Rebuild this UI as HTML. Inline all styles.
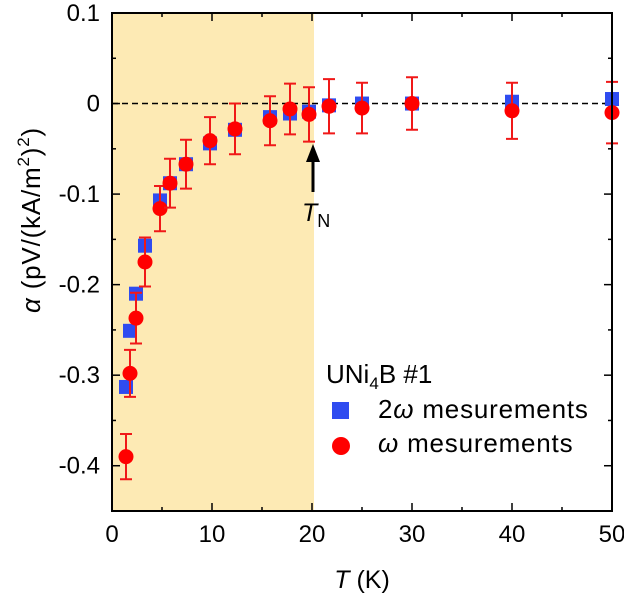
<!DOCTYPE html>
<html><head><meta charset="utf-8"><style>
body{margin:0;background:#fff}
svg text{font-family:"Liberation Sans",Arial,sans-serif;fill:#000}
</style></head><body>
<svg id="chart" width="624" height="604" viewBox="0 0 624 604" xmlns="http://www.w3.org/2000/svg">
<g id="g"></g>
</svg>
<script>
const tempsSq=[1.4,1.8,2.4,3.3,4.8,5.8,7.4,9.8,12.3,15.8,17.8,19.7,21.7,25,30,40,50];
const alphaSq=[-0.313,-0.251,-0.210,-0.157,-0.107,-0.088,-0.067,-0.044,-0.029,-0.015,-0.011,-0.009,-0.002,0,0,0.002,0.005];
const tempsCi=[1.4,1.8,2.4,3.3,4.8,5.8,7.4,9.8,12.3,15.8,17.8,19.7,21.7,25,30,40,50];
const alphaCi=[-0.390,-0.298,-0.237,-0.175,-0.116,-0.088,-0.067,-0.041,-0.028,-0.019,-0.006,-0.012,-0.003,-0.005,0,-0.008,-0.010];
const errCi=[0.025,0.026,0.028,0.027,0.025,0.027,0.027,0.026,0.028,0.027,0.028,0.030,0.030,0.028,0.029,0.031,0.034];
const xTicks=[0,10,20,30,40,50];
const yTicks=[0.1,0,-0.1,-0.2,-0.3,-0.4];
const yTickLabels=["0.1","0","-0.1","-0.2","-0.3","-0.4"];

const L=112,R=612,T=13,B=511;
const X=v=>L+(v-0)/50*(R-L);
const Y=v=>T+(0.1-v)/0.55*(B-T);
const g=document.getElementById('g');
const NS='http://www.w3.org/2000/svg';
function mk(tag,attrs,parent){const e=document.createElementNS(NS,tag);for(const k in attrs)e.setAttribute(k,attrs[k]);(parent||g).appendChild(e);return e;}

let e=mk('rect',{x:L,y:T,width:X(20.2)-L,height:B-T,fill:'#fdeab4'});


e=mk('line',{x1:L,x2:R,y1:Y(0),y2:Y(0),stroke:'#000','stroke-width':1.5,'stroke-dasharray':'6,4'});



for(let v=0;v<=50;v+=5){const maj=v%10===0;const len=maj?8:4;
 mk('line',{x1:X(v),x2:X(v),y1:B,y2:B-len,stroke:'#000','stroke-width':1.5});
 mk('line',{x1:X(v),x2:X(v),y1:T,y2:T+len,stroke:'#000','stroke-width':1.5});}
for(let i=0;i<=11;i++){const v=0.1-i*0.05;const maj=i%2===0;const len=maj?8:4;
 mk('line',{x1:L,x2:L+len,y1:Y(v),y2:Y(v),stroke:'#000','stroke-width':1.5});
 mk('line',{x1:R,x2:R-len,y1:Y(v),y2:Y(v),stroke:'#000','stroke-width':1.5});}
xTicks.forEach(v=>{const t=mk('text',{x:X(v),y:B+31,'text-anchor':'middle','font-size':24});t.textContent=v;
 
 });
yTicks.forEach((v,i)=>{const t=mk('text',{x:L-12,y:Y(v)+8,'text-anchor':'end','font-size':24});t.textContent=yTickLabels[i];
 
 });

tempsSq.forEach((t,i)=>{const s=mk('rect',{x:X(t)-7,y:Y(alphaSq[i])-7,width:14,height:14,fill:'#2f4cf0'});
 
 });
tempsCi.forEach((t,i)=>{const cx=X(t),y1=Y(alphaCi[i]+errCi[i]),y2=Y(alphaCi[i]-errCi[i]);
 const eb=mk('path',{d:`M${cx},${y1}V${y2}M${cx-6},${y1}H${cx+6}M${cx-6},${y2}H${cx+6}`,stroke:'#f01818','stroke-width':2,fill:'none'});
 
 
 const c=mk('circle',{cx:cx,cy:Y(alphaCi[i]),r:7.5,fill:'#f00'});
 
 });

e=mk('rect',{x:L,y:T,width:R-L,height:B-T,fill:'none',stroke:'#000','stroke-width':2});


</script>
<svg style="position:absolute;left:0;top:0" width="624" height="604" xmlns="http://www.w3.org/2000/svg">
<path d="M313,192V160" stroke="#000" stroke-width="3"/>
<path d="M306,162L313,144L320,162Z" fill="#000"/>
<text x="302" y="221" font-size="25" style="font-family:'Liberation Sans',sans-serif"><tspan font-style="italic">T</tspan><tspan font-size="18" dy="6">N</tspan></text>
<text x="362" y="588" text-anchor="middle" font-size="25" style="font-family:'Liberation Sans',sans-serif"><tspan font-style="italic">T</tspan> (K)</text>
<text transform="translate(40,220) rotate(-90)" text-anchor="middle" font-size="26" letter-spacing="0.8" style="font-family:'Liberation Sans',sans-serif"><tspan font-style="italic">α</tspan> (pV/(kA/m<tspan font-size="17" dy="-11">2</tspan><tspan dy="11">)</tspan><tspan font-size="17" dy="-11">2</tspan><tspan dy="11">)</tspan></text>
<g style="font-family:'Liberation Sans',sans-serif">
<text x="326" y="383" font-size="26">UNi<tspan font-size="17" dy="6">4</tspan><tspan dy="-6">B #1</tspan></text>
<rect x="332" y="402" width="17" height="17" fill="#2f4cf0"/>
<text x="378" y="418" font-size="26" letter-spacing="0.8">2<tspan font-style="italic">ω</tspan> mesurements</text>
<circle cx="341" cy="446" r="9" fill="#f00"/>
<text x="378" y="452" font-size="26" letter-spacing="0.8"><tspan font-style="italic">ω</tspan> mesurements</text>
</g>
</svg>
</body></html>
